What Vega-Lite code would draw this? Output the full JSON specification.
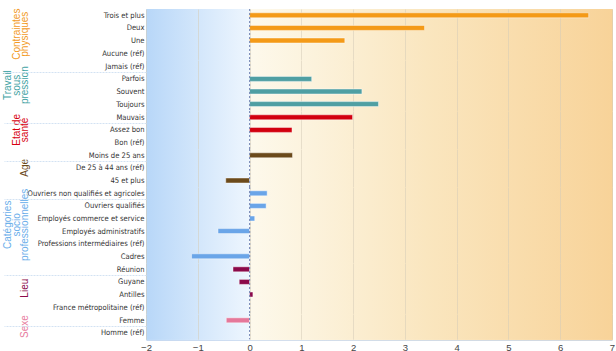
{
  "$schema": "https://vega.github.io/schema/vega-lite/v6.json",
  "padding": {"left": 3, "top": 4, "right": 0, "bottom": 0},
  "background": "white",
  "bounds": "flush",
  "data": {
    "values": [
      {"group": "Contraintes physiques", "item": "Trois et plus", "value": 6.55},
      {"group": "Contraintes physiques", "item": "Deux", "value": 3.38},
      {"group": "Contraintes physiques", "item": "Une", "value": 1.84},
      {"group": "Contraintes physiques", "item": "Aucune (réf)", "value": 0},
      {"group": "Travail sous pression", "item": "Jamais (réf)", "value": 0},
      {"group": "Travail sous pression", "item": "Parfois", "value": 1.2},
      {"group": "Travail sous pression", "item": "Souvent", "value": 2.17},
      {"group": "Travail sous pression", "item": "Toujours", "value": 2.49},
      {"group": "Etat de santé", "item": "Mauvais", "value": 1.99},
      {"group": "Etat de santé", "item": "Assez bon", "value": 0.82},
      {"group": "Etat de santé", "item": "Bon (réf)", "value": 0},
      {"group": "Age", "item": "Moins de 25 ans", "value": 0.83},
      {"group": "Age", "item": "De 25 à 44 ans (réf)", "value": 0},
      {"group": "Age", "item": "45 et plus", "value": -0.46},
      {"group": "Catégories socio professionnelles", "item": "Ouvriers non qualifiés et agricoles", "value": 0.34},
      {"group": "Catégories socio professionnelles", "item": "Ouvriers qualifiés", "value": 0.32},
      {"group": "Catégories socio professionnelles", "item": "Employés commerce et service", "value": 0.1},
      {"group": "Catégories socio professionnelles", "item": "Employés administratifs", "value": -0.61},
      {"group": "Catégories socio professionnelles", "item": "Professions intermédiaires (réf)", "value": 0},
      {"group": "Catégories socio professionnelles", "item": "Cadres", "value": -1.12},
      {"group": "Lieu", "item": "Réunion", "value": -0.32},
      {"group": "Lieu", "item": "Guyane", "value": -0.2},
      {"group": "Lieu", "item": "Antilles", "value": 0.065},
      {"group": "Lieu", "item": "France métropolitaine (réf)", "value": 0},
      {"group": "Sexe", "item": "Femme", "value": -0.45},
      {"group": "Sexe", "item": "Homme (réf)", "value": 0}
    ]
  },
  "facet": {
    "row": {
      "field": "group",
      "type": "nominal",
      "sort": ["Contraintes physiques", "Travail sous pression", "Etat de santé", "Age", "Catégories socio professionnelles", "Lieu", "Sexe"],
      "header": {
        "title": null,
        "labelOrient": "left",
        "labelAngle": -90,
        "labelFont": "Liberation Sans",
        "labelFontSize": 10,
        "labelPadding": 111,
        "labelLineHeight": 8.5,
        "labelExpr": "datum.value == 'Etat de santé' ? ['Etat de', 'santé'] : split(datum.value, ' ')",
        "labelColor": {"expr": "parent.group == 'Contraintes physiques' ? '#f29a1e' : parent.group == 'Travail sous pression' ? '#3fa3a3' : parent.group == 'Etat de santé' ? '#d7000f' : parent.group == 'Age' ? '#6b4a1b' : parent.group == 'Catégories socio professionnelles' ? '#6aaeea' : parent.group == 'Lieu' ? '#8b0a4a' : '#e87ca0'"}
      }
    }
  },
  "spacing": {"row": 0},
  "resolve": {"scale": {"y": "independent"}},
  "spec": {
    "width": 466,
    "height": {"step": 12.6},
    "layer": [
      {
        "mark": {"type": "bar", "size": 5, "stroke": "#ffffff", "strokeOpacity": 0.45, "strokeWidth": 1},
        "encoding": {
          "y": {
            "field": "item", "type": "nominal", "sort": null, "title": null,
            "axis": {
              "ticks": true, "tickBand": "extent", "tickSize": 142, "tickWidth": 1, "tickDash": [2, 1],
              "tickColor": {"condition": {"test": "datum.index == 0 && datum.value != 'Trois et plus'", "value": "#d3e2f3"}, "value": "transparent"},
              "domain": false, "labelFont": "Liberation Sans Narrow, DejaVu Sans Condensed, Liberation Sans", "labelFontSize": 7.6, "labelColor": "#333333", "labelPadding": -140
            }
          },
          "x": {
            "field": "value", "type": "quantitative", "title": null,
            "scale": {"domain": [-2, 7], "nice": false},
            "axis": {"values": [-2, -1, 0, 1, 2, 3, 4, 5, 6, 7], "ticks": false, "domain": true, "domainColor": "#c9d9ef", "gridColor": "#d6ccb8", "gridOpacity": 0.55, "labelFont": "Liberation Sans", "labelFontSize": 9.5, "labelColor": "#444444", "labelPadding": 2, "labelFlush": false}
          },
          "color": {
            "field": "group", "type": "nominal", "legend": null,
            "scale": {
              "domain": ["Contraintes physiques", "Travail sous pression", "Etat de santé", "Age", "Catégories socio professionnelles", "Lieu", "Sexe"],
              "range": ["#f49a17", "#4f9fa3", "#d2000f", "#6b4a1b", "#6aa5e8", "#8b0a4a", "#e5789a"]
            }
          }
        }
      },
      {
        "mark": {"type": "rule", "color": "#8090bb", "strokeDash": [2, 2], "strokeWidth": 1},
        "encoding": {"x": {"datum": 0}}
      }
    ]
  },
  "config": {
    "view": {
      "strokeWidth": 1,
      "stroke": {
        "gradient": "linear", "x1": 0, "y1": 0, "x2": 1, "y2": 0,
        "stops": [
          {"offset": 0, "color": "#b8d7f8"},
          {"offset": 0.2222, "color": "#eef6fe"},
          {"offset": 0.2223, "color": "#fdf9ec"},
          {"offset": 0.6, "color": "#fae6bf"},
          {"offset": 1, "color": "#f8d399"}
        ]
      },
      "fill": {
        "gradient": "linear", "x1": 0, "y1": 0, "x2": 1, "y2": 0,
        "stops": [
          {"offset": 0, "color": "#b8d7f8"},
          {"offset": 0.2222, "color": "#eef6fe"},
          {"offset": 0.2223, "color": "#fdf9ec"},
          {"offset": 0.6, "color": "#fae6bf"},
          {"offset": 1, "color": "#f8d399"}
        ]
      }
    }
  }
}
